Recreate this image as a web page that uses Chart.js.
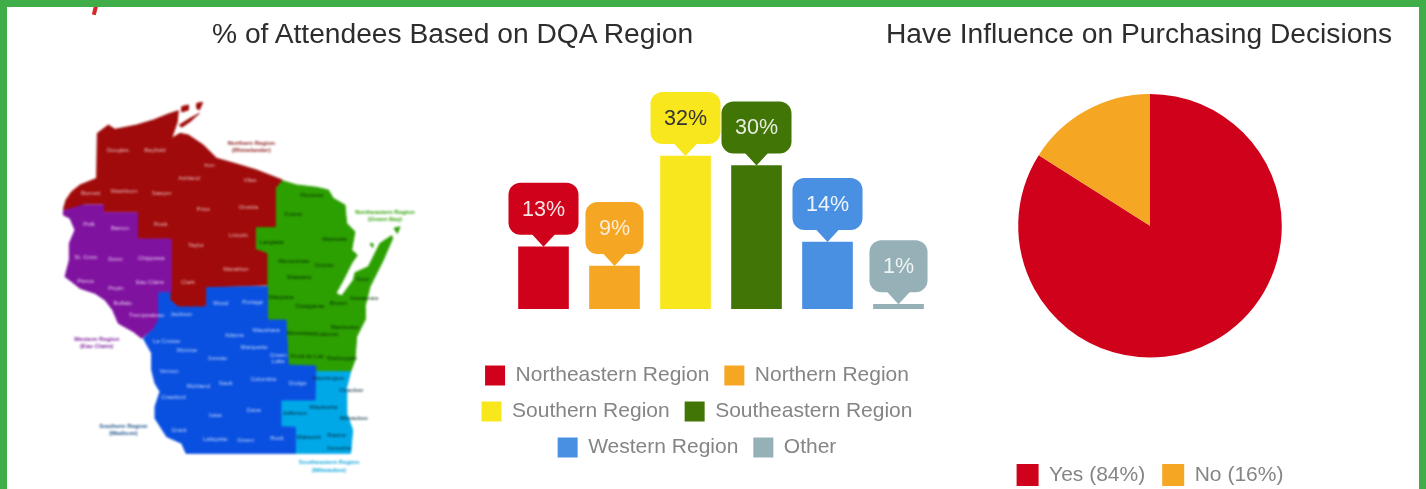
<!DOCTYPE html>
<html lang="en">
<head>
    <meta charset="UTF-8">
    <title>DQA Attendees</title>
    <script src="https://cdn.jsdelivr.net/npm/chart.js"></script>
    <style>
        html, body { margin: 0; padding: 0; background: #fff; overflow: hidden; }
        body { width: 1426px; height: 489px; position: relative; font-family: "Liberation Sans", Arial, sans-serif; }
        .frame { position: absolute; left: 0; top: 0; width: 1426px; height: 489px; box-sizing: border-box;
                 border: 7px solid #3fae49; border-bottom: 0; z-index: 5; }
        .sliver { position: absolute; left: 93px; top: 5px; width: 4px; height: 10px; background: #d8232a;
                  transform: rotate(14deg); }
        h2 { position: absolute; margin: 0; top: 16px; font-weight: normal; font-size: 28.2px; line-height: 34px;
             color: #2d2d2d; white-space: nowrap; filter: blur(.4px); }
        canvas { position: absolute; filter: blur(.6px); }
        #mapChart { filter: blur(.9px); }
    </style>
</head>
<body>
    <div class="sliver"></div>
    <div class="frame"></div>
    <h2 style="left:212px">% of Attendees Based on DQA Region</h2>
    <h2 style="left:886px">Have Influence on Purchasing Decisions</h2>
    <canvas id="mapChart" width="400" height="399" style="left:40px;top:90px"></canvas>
    <canvas id="barChart" width="474" height="389" style="left:460px;top:79px"></canvas>
    <canvas id="pieChart" width="320" height="402" style="left:990px;top:94px"></canvas>

    <script>
        // bar chart
        const regions = ["Northeastern Region", "Northern Region", "Southern Region", "Southeastern Region", "Western Region", "Other"];
        const regionPct = [13, 9, 32, 30, 14, 1];
        const regionColors = ["#d0021b", "#f5a623", "#f8e71c", "#417505", "#4a90e2", "#95b0b6"];
        const calloutText = ["#f4e4e4", "#fbeedb", "#333333", "#e6ecdf", "#eef4fb", "#f0f4f5"];

        // pie chart
        const pieLabels = ["Yes (84%)", "No (16%)"];
        const pieValues = [84, 16];
        const pieColors = ["#d0021b", "#f5a623"];

        // map outlines (map units, y going down)
        const northernOutline = [[70,358],[78,330],[95,305],[120,285],[170,265],[172,130],[205,105],[225,118],[290,105],[340,90],[385,72],[415,62],[412,95],[395,145],[420,130],[445,135],[490,165],[530,205],[590,222],[650,240],[727,270],[705,295],[705,410],[645,410],[645,478],[680,490],[680,585],[497,590],[495,648],[415,648],[393,630],[393,447],[292,445],[292,365],[190,365],[190,342],[130,342],[125,358]];
        const apostleA = [[425,50],[445,45],[445,60],[425,66]];
        const apostleB = [[470,40],[488,37],[478,60],[470,55]];
        const apostleC = [[418,105],[450,85],[478,70],[450,95],[425,112]];
        const westernOutline = [[70,362],[130,345],[190,345],[190,368],[292,368],[292,447],[393,447],[393,605],[352,605],[352,690],[340,715],[305,745],[280,725],[235,700],[218,660],[195,630],[165,610],[120,595],[95,575],[75,560],[88,510],[88,460],[105,420],[90,385],[70,375]];
        const southernOutline = [[352,607],[393,607],[393,630],[415,648],[495,648],[497,590],[682,590],[682,690],[738,690],[745,825],[828,828],[825,930],[722,930],[722,1010],[765,1012],[765,1090],[438,1090],[425,1060],[380,1040],[345,985],[345,950],[360,905],[345,880],[335,840],[335,790],[310,745],[340,715],[352,690]];
        const southeastOutline = [[830,845],[932,845],[918,900],[920,970],[938,1020],[932,1090],[765,1090],[765,1012],[722,1010],[722,930],[825,930]];
        const northeastOutline = [[727,272],[770,285],[830,292],[865,300],[880,325],[915,345],[920,400],[945,425],[935,480],[952,495],[935,520],[910,570],[888,610],[905,618],[940,570],[945,548],[985,530],[1020,460],[1055,437],[1058,445],[1030,510],[990,590],[975,650],[975,690],[950,740],[945,810],[932,845],[830,845],[828,828],[745,825],[738,690],[682,690],[680,490],[645,478],[645,410],[705,410],[705,295]];
        const washingtonIsland = [[1062,415],[1080,410],[1072,430]];
        const chambersIsland = [[990,462],[998,460],[998,472]];

        const northernCounties = [["Douglas",233,181],["Bayfield",345,181],["Iron",508,227],["Ashland",447,265],["Vilas",630,270],["Burnett",152,311],["Washburn",252,304],["Sawyer",365,311],["Price",490,357],["Oneida",625,352],["Rusk",362,404],["Lincoln",595,435],["Taylor",468,466],["Marathon",588,538],["Clark",444,576]];
        const westernCounties = [["Polk",147,403],["Barron",240,415],["St. Croix",137,501],["Dunn",226,509],["Chippewa",334,504],["Pierce",137,574],["Pepin",228,594],["Eau Claire",330,577],["Buffalo",248,641],["Trempealeau",320,677]];
        const southernCounties = [["Jackson",424,672],["Wood",542,639],["Portage",638,637],["Waushara",678,721],["Adams",583,736],["La Crosse",380,753],["Monroe",441,781],["Marquette",642,771],["Juneau",532,806],["Green",715,795],["Lake",715,815],["Vernon",387,844],["Sauk",557,880],["Columbia",670,869],["Richland",475,889],["Dodge",773,879],["Crawford",400,921],["Dane",642,960],["Iowa",526,977],["Grant",417,1020],["Lafayette",526,1049],["Green",617,1051],["Rock",711,1046]];
        const northeastCounties = [["Florence",816,315],["Forest",760,373],["Marinette",884,448],["Langlade",695,457],["Menominee",762,513],["Oconto",852,527],["Shawano",777,563],["Door",968,569],["Kewaunee",973,625],["Waupaca",723,621],["Brown",895,640],["Outagamie",810,648],["Manitowoc",915,712],["Winnebago",785,730],["Calumet",861,734],["Fond du Lac",802,800],["Sheboygan",905,805]];
        const southeastCounties = [["Washington",865,866],["Ozaukee",934,902],["Waukesha",850,951],["Jefferson",764,970],["Milwaukee",941,985],["Walworth",806,1043],["Racine",890,1035],["Kenosha",897,1076]];

        const regionNames = [
            ["Northern Region", "(Rhinelander)", 634, 160, "#8a1616"],
            ["Northeastern Region", "(Green Bay)", 1035, 367, "#2ca000"],
            ["Western Region", "(Eau Claire)", 170, 747, "#7d1a9c"],
            ["Southern Region", "(Madison)", 250, 1008, "#1c4f86"],
            ["Southeastern Region", "(Milwaukee)", 867, 1118, "#12a5dc"]
        ];

        const toPoints = outline => outline.map(p => ({ x: p[0], y: p[1] }));
        const area = (outline, color) => ({
            data: toPoints(outline.concat([outline[0]])),
            showLine: true,
            fill: 'shape',
            backgroundColor: color,
            borderColor: color,
            borderWidth: 1,
            pointRadius: 0,
            tension: 0
        });

        // county and region names on the map
        const mapLabels = {
            id: 'mapLabels',
            afterDatasetsDraw(chart) {
                const { ctx, scales: { x, y } } = chart;
                const put = (list, color) => {
                    ctx.fillStyle = color;
                    list.forEach(c => ctx.fillText(c[0], x.getPixelForValue(c[1]), y.getPixelForValue(c[2])));
                };
                ctx.save();
                ctx.textAlign = 'center';
                ctx.textBaseline = 'middle';
                ctx.font = '6px "Liberation Sans"';
                put(northernCounties, '#e8bcbc');
                put(westernCounties, '#e3c5ee');
                put(southernCounties, '#c3d6fa');
                put(northeastCounties, '#062a00');
                put(southeastCounties, '#06283a');
                ctx.font = 'bold 6px "Liberation Sans"';
                regionNames.forEach(r => {
                    ctx.fillStyle = r[4];
                    ctx.fillText(r[0], x.getPixelForValue(r[2]), y.getPixelForValue(r[3]));
                    ctx.fillText(r[1], x.getPixelForValue(r[2]), y.getPixelForValue(r[3] + 22));
                });
                ctx.restore();
            }
        };

        new Chart(document.getElementById('mapChart'), {
            type: 'scatter',
            data: {
                datasets: [
                    area(westernOutline, '#8012a0'),
                    area(northernOutline, '#a00a0a'),
                    area(apostleA, '#a00a0a'),
                    area(apostleB, '#a00a0a'),
                    area(apostleC, '#a00a0a'),
                    area(southernOutline, '#0a50e0'),
                    area(southeastOutline, '#00a8e8'),
                    area(northeastOutline, '#2ca000'),
                    area(washingtonIsland, '#2ca000'),
                    area(chambersIsland, '#2ca000')
                ]
            },
            options: {
                responsive: false,
                animation: false,
                layout: { padding: 0 },
                plugins: { legend: { display: false }, tooltip: { enabled: false } },
                scales: {
                    x: { type: 'linear', min: 0, max: 1200, display: false },
                    y: { type: 'linear', min: 0, max: 1197, reverse: true, display: false }
                }
            },
            plugins: [mapLabels]
        });

        // speech bubble over each bar
        const callouts = {
            id: 'callouts',
            afterDatasetsDraw(chart) {
                const ctx = chart.ctx;
                ctx.save();
                ctx.font = '21.5px "Liberation Sans"';
                ctx.textAlign = 'center';
                ctx.textBaseline = 'middle';
                chart.getDatasetMeta(0).data.forEach((bar, i) => {
                    const text = regionPct[i] + '%';
                    const w = ctx.measureText(text).width + 27;
                    const h = 52;
                    const tipH = 12;
                    const left = bar.x - w / 2;
                    const top = bar.y - tipH - h;
                    ctx.fillStyle = regionColors[i];
                    ctx.beginPath();
                    ctx.roundRect(left, top, w, h, 12);
                    ctx.fill();
                    ctx.beginPath();
                    ctx.moveTo(bar.x - 12, top + h - 1);
                    ctx.lineTo(bar.x + 12, top + h - 1);
                    ctx.lineTo(bar.x, bar.y);
                    ctx.closePath();
                    ctx.fill();
                    ctx.fillStyle = calloutText[i];
                    ctx.fillText(text, bar.x, top + h / 2 + 1);
                });
                ctx.restore();
            }
        };

        new Chart(document.getElementById('barChart'), {
            type: 'bar',
            data: {
                labels: regions,
                datasets: [{ data: regionPct, backgroundColor: regionColors, barThickness: 50 }]
            },
            options: {
                responsive: false,
                animation: false,
                layout: { padding: 0 },
                scales: {
                    x: {
                        grid: { display: false },
                        border: { display: false },
                        ticks: { display: false },
                        afterFit(axis) { axis.height = 41; }
                    },
                    y: {
                        min: 0,
                        max: 48.1,
                        grid: { display: false },
                        border: { display: false },
                        ticks: { display: false },
                        afterFit(axis) { axis.width = 48; }
                    }
                },
                plugins: {
                    tooltip: { enabled: false },
                    legend: {
                        position: 'bottom',
                        labels: {
                            boxWidth: 20,
                            boxHeight: 20,
                            padding: 15,
                            color: '#858585',
                            font: { family: '"Liberation Sans"', size: 21, lineHeight: 1 },
                            generateLabels: chart => chart.data.labels.map((text, i) => ({
                                text,
                                fillStyle: regionColors[i],
                                strokeStyle: regionColors[i],
                                lineWidth: 0,
                                fontColor: '#858585',
                                index: i
                            }))
                        }
                    }
                }
            },
            plugins: [callouts]
        });

        new Chart(document.getElementById('pieChart'), {
            type: 'pie',
            data: {
                labels: pieLabels,
                datasets: [{ data: pieValues, backgroundColor: pieColors, borderWidth: 0 }]
            },
            options: {
                responsive: false,
                animation: false,
                layout: { padding: 0 },
                plugins: {
                    tooltip: { enabled: false },
                    // empty title only holds the gap between pie and legend
                    title: { display: true, text: '', position: 'bottom', weight: 500, padding: { top: 0, bottom: 75 } },
                    legend: {
                        position: 'bottom',
                        weight: 3000,
                        labels: {
                            boxWidth: 22,
                            boxHeight: 22,
                            padding: 17,
                            color: '#858585',
                            font: { family: '"Liberation Sans"', size: 21, lineHeight: 1 }
                        }
                    }
                }
            }
        });
    </script>
</body>
</html>
